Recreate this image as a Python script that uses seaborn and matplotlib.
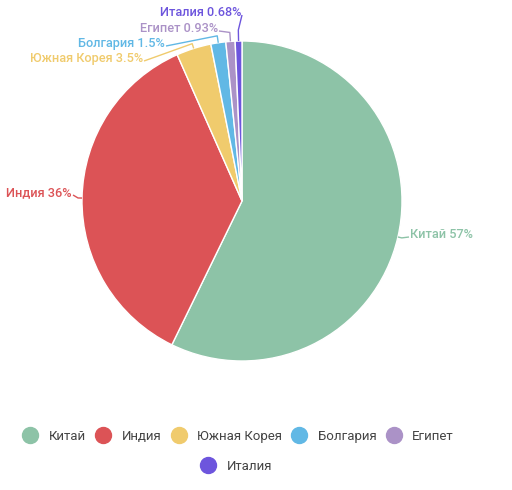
import numpy as np
import matplotlib
matplotlib.use("Agg")
import matplotlib.pyplot as plt
from matplotlib.lines import Line2D
import seaborn as sns

categories = ["Китай", "Индия", "Южная Корея", "Болгария", "Египет", "Италия"]
values = [57, 36, 3.5, 1.5, 0.93, 0.68]
labels = ["Китай 57%", "Индия 36%", "Южная Корея 3.5%", "Болгария 1.5%", "Египет 0.93%", "Италия 0.68%"]
colors = ["#8dc3a7", "#dc5356", "#f0cb6d", "#61b8e5", "#ab92c7", "#6d55dd"]

sns.set_theme(style="white")
plt.rcParams['font.family'] = ['Roboto', 'DejaVu Sans']

H = 490
fig = plt.figure(figsize=(5.12, 4.9), dpi=100)
ax = fig.add_axes([0, 0, 1, 1])

cx, cy, R = 242, H - 201, 160
wedges, _ = ax.pie(values, colors=colors, startangle=90, counterclock=False,
                   center=(cx, cy), radius=R, frame=True,
                   wedgeprops=dict(linewidth=1, edgecolor="white"))
ax.set_xlim(0, 512)
ax.set_ylim(0, H)
ax.set_aspect("equal")
ax.axis("off")

# label anchor points in pixel coords from top (x, y, ha)
anchors = [(410, 235, "left"), (72, 193, "right"), (143, 59, "right"),
           (165, 44, "right"), (218, 29, "right"), (241, 13, "right")]
elbows = [4, 4, 5, 7, 9, 11]

for w, lab, col, (lx, ly, ha), el in zip(wedges, labels, colors, anchors, elbows):
    ang = np.deg2rad((w.theta1 + w.theta2) / 2)
    ex = cx + R * np.cos(ang)
    ey = cy + R * np.sin(ang)
    ox = cx + (R + el) * np.cos(ang)
    oy = cy + (R + el) * np.sin(ang)
    yl = H - (ly + 2)
    tx = lx - 1 if ha == "left" else lx + 1
    ax.plot([ex, ox, tx], [ey, oy, yl], color=col, lw=1, solid_capstyle="butt")
    ax.text(lx, H - ly, lab, color=col, fontsize=9.2, fontweight="medium",
            ha=ha, va="center")

def handles(idx):
    return [Line2D([0], [0], marker="o", linestyle="none", markersize=11.5,
                   markerfacecolor=colors[i], markeredgecolor=colors[i]) for i in idx]

common = dict(frameon=False, fontsize=9.5, handlelength=1.2, handletextpad=0.8,
              columnspacing=0.7, labelcolor="#444444", loc="center")
fig.legend(handles(range(5)), categories[:5], bbox_to_anchor=(0.465, 1 - 436 / H),
           ncol=5, **common)
fig.legend(handles([5]), categories[5:], bbox_to_anchor=(0.461, 1 - 466 / H),
           ncol=1, **common)

fig.savefig("out.png", dpi=100)
